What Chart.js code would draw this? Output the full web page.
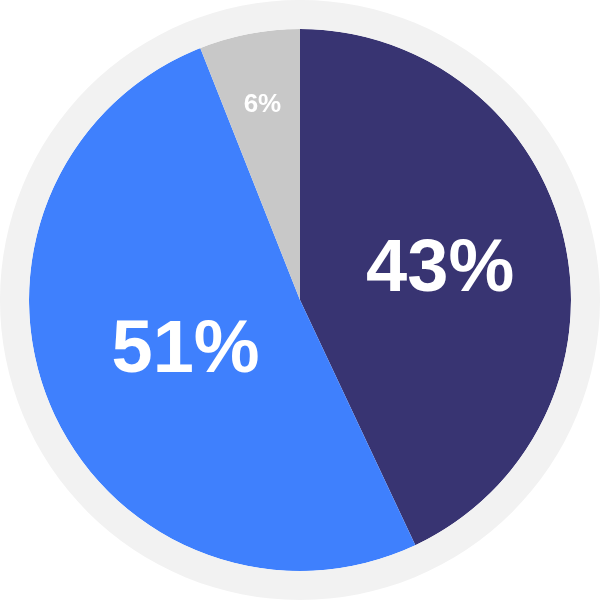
<!DOCTYPE html>
<html>
<head>
<meta charset="utf-8">
<script src="https://cdn.jsdelivr.net/npm/chart.js@4/dist/chart.umd.min.js"></script>
<style>
  html, body { margin: 0; padding: 0; background: #ffffff; }
  #wrap { width: 600px; height: 600px; }
</style>
</head>
<body>
<div id="wrap"><canvas id="pieChart"></canvas></div>
<script>
const labels = ["Dark", "Blue", "Gray"];
const values = [43, 51, 6];
const colors = ["#383472", "#3f80fd", "#c8c8c8"];

// label placement: radius fraction and font size per slice
const labelRadius = [0.53, 0.46, 0.74];
const labelSize = [74, 74, 26];

const sliceLabels = {
  id: "sliceLabels",
  afterDatasetsDraw(chart) {
    const ctx = chart.ctx;
    const meta = chart.getDatasetMeta(1);
    meta.data.forEach((arc, i) => {
      const p = arc.getProps(["x", "y", "startAngle", "endAngle", "outerRadius"], true);
      const mid = (p.startAngle + p.endAngle) / 2;
      const r = p.outerRadius * labelRadius[i];
      ctx.save();
      ctx.fillStyle = "#ffffff";
      ctx.font = "bold " + labelSize[i] + "px 'Liberation Sans', Arial, sans-serif";
      ctx.textAlign = "center";
      ctx.textBaseline = "middle";
      ctx.fillText(values[i] + "%", p.x + Math.cos(mid) * r, p.y + Math.sin(mid) * r + 2);
      ctx.restore();
    });
  },
};

const ctx = document.getElementById("pieChart").getContext("2d");

const pieChart = new Chart(ctx, {
  type: "doughnut",
  data: {
    labels: labels,
    datasets: [
      {
        data: [1],
        backgroundColor: ["#f2f2f2"],
        borderWidth: 0,
        weight: 29,
      },
      {
        data: values,
        backgroundColor: colors,
        borderWidth: 0,
        weight: 271,
      },
    ],
  },
  options: {
    responsive: true,
    maintainAspectRatio: false,
    animation: false,
    cutout: 0,
    layout: { padding: 0 },
    events: [],
    plugins: {
      legend: { display: false },
      tooltip: { enabled: false },
    },
  },
  plugins: [sliceLabels],
});
</script>
</body>
</html>
